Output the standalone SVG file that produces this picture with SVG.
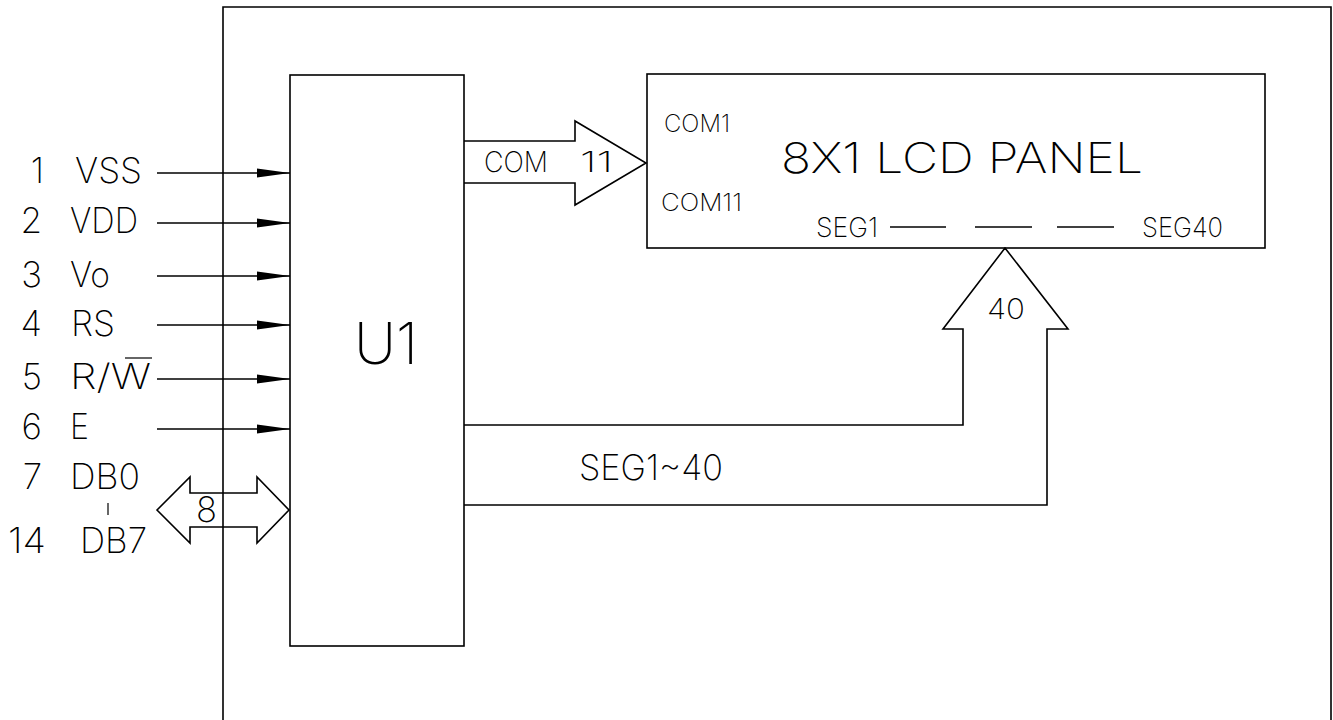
<svg xmlns="http://www.w3.org/2000/svg" width="1333" height="720" viewBox="0 0 1333 720">
<style>
  .ln { fill: none; stroke: #000; stroke-width: 1.6; }
  .bx { fill: #fff; stroke: #000; stroke-width: 1.6; }
  .ah { fill: #000; stroke: none; }
  text { font-family: Inter, "Liberation Sans", sans-serif; font-weight: 200; fill: #000; }
  .t34 { font-size: 35px; }
  .t24 { font-size: 24px; }
  .t27 { font-size: 27px; }
  .t28 { font-size: 28px; }
  .t42 { font-size: 42px; }
  .t58 { font-size: 58px; }
</style>
<defs>
  <polygon id="head" class="ah" points="-33,-4.5 0,0 -33,4.5"/>
</defs>
<rect width="1333" height="720" fill="#fff"/>

<g id="frame">
  <polyline class="ln" points="223,720 223,7 1331,7 1331,720"/>
</g>

<g id="pins">
  <text class="t34" x="44" y="183" text-anchor="end">1</text>
  <text class="t34" x="75" y="183" textLength="67" lengthAdjust="spacingAndGlyphs">VSS</text>
  <text class="t34" x="42" y="233" text-anchor="end">2</text>
  <text class="t34" x="70" y="233" textLength="68" lengthAdjust="spacingAndGlyphs">VDD</text>
  <text class="t34" x="42" y="287" text-anchor="end">3</text>
  <text class="t34" x="70" y="287" textLength="40" lengthAdjust="spacingAndGlyphs">Vo</text>
  <text class="t34" x="42" y="336" text-anchor="end">4</text>
  <text class="t34" x="71" y="336" textLength="44" lengthAdjust="spacingAndGlyphs">RS</text>
  <text class="t34" x="42" y="389" text-anchor="end">5</text>
  <text class="t34" x="70" y="389" textLength="81" lengthAdjust="spacingAndGlyphs">R/W</text>
  <line class="ln" x1="125" y1="358" x2="152" y2="358" style="stroke-width:1.2"/>
  <text class="t34" x="42" y="439" text-anchor="end">6</text>
  <text class="t34" x="70" y="439" textLength="19" lengthAdjust="spacingAndGlyphs">E</text>
  <text class="t34" x="42" y="489" text-anchor="end">7</text>
  <text class="t34" x="70" y="489" textLength="70" lengthAdjust="spacingAndGlyphs">DB0</text>
  <line class="ln" x1="108" y1="503" x2="108" y2="515" style="stroke-width:1.2"/>
  <text class="t34" x="8" y="553" textLength="38" lengthAdjust="spacingAndGlyphs">14</text>
  <text class="t34" x="80" y="553" textLength="67" lengthAdjust="spacingAndGlyphs">DB7</text>
</g>

<g id="U1">
  <rect class="bx" x="290" y="75" width="174" height="571"/>
  <text class="t58" x="354" y="364" textLength="64" lengthAdjust="spacingAndGlyphs">U1</text>
</g>

<g id="LCD">
  <rect class="bx" x="647" y="74" width="618" height="174"/>
  <text class="t24" x="664" y="132" textLength="66" lengthAdjust="spacingAndGlyphs">COM1</text>
  <text class="t24" x="661" y="211" textLength="81" lengthAdjust="spacingAndGlyphs">COM11</text>
  <text class="t42" x="781" y="173" textLength="362" lengthAdjust="spacingAndGlyphs">8X1 LCD PANEL</text>
  <text class="t27" x="816" y="237" textLength="62" lengthAdjust="spacingAndGlyphs">SEG1</text>
  <line class="ln" x1="890" y1="227" x2="946" y2="227" style="stroke-width:1.3"/>
  <line class="ln" x1="975" y1="227" x2="1032" y2="227" style="stroke-width:1.3"/>
  <line class="ln" x1="1057" y1="227" x2="1114" y2="227" style="stroke-width:1.3"/>
  <text class="t27" x="1142" y="237" textLength="81" lengthAdjust="spacingAndGlyphs">SEG40</text>
</g>

<g id="connectors">
  <line class="ln" x1="157" y1="173" x2="290" y2="173"/>
  <use href="#head" x="290" y="173"/>
  <line class="ln" x1="157" y1="223" x2="290" y2="223"/>
  <use href="#head" x="290" y="223"/>
  <line class="ln" x1="157" y1="276" x2="290" y2="276"/>
  <use href="#head" x="290" y="276"/>
  <line class="ln" x1="157" y1="325" x2="290" y2="325"/>
  <use href="#head" x="290" y="325"/>
  <line class="ln" x1="157" y1="379" x2="290" y2="379"/>
  <use href="#head" x="290" y="379"/>
  <line class="ln" x1="157" y1="429" x2="290" y2="429"/>
  <use href="#head" x="290" y="429"/>

  <polygon class="ln" points="157,510 190,477 190,493 257,493 257,477 289,510 257,543 257,527 190,527 190,543"/>
  <text class="t34" x="196" y="522" textLength="21" lengthAdjust="spacingAndGlyphs">8</text>

  <polyline class="ln" points="464,141 575,141 575,121 646,163 575,205 575,183 464,183"/>
  <text class="t28" x="484" y="172" textLength="64" lengthAdjust="spacingAndGlyphs">COM</text>
  <text class="t28" x="580" y="172" textLength="33" lengthAdjust="spacingAndGlyphs">11</text>

  <polyline class="ln" points="464,425 963,425 963,329 943,329 1005,248 1068,329 1047,329 1047,505 464,505"/>
  <text class="t28" x="987" y="319" textLength="38" lengthAdjust="spacingAndGlyphs">40</text>
  <text class="t34" x="579" y="480" textLength="144" lengthAdjust="spacingAndGlyphs">SEG1~40</text>
</g>
</svg>
